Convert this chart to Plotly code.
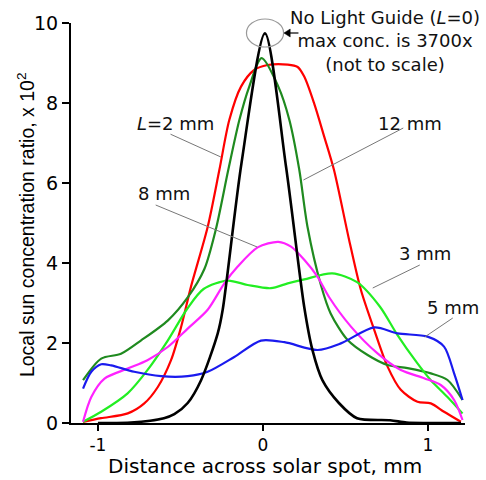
import plotly.graph_objects as go

# ---- data ----
x_L0 = [-1.0, -0.8, -0.6, -0.537, -0.456, -0.375, -0.274, -0.244, -0.13, 0.012, 0.14, 0.25, 0.30, 0.36, 0.46, 0.57, 0.77, 0.87, 1.0, 1.2]
y_L0 = [0.0, 0.01, 0.12, 0.22, 0.5, 1.07, 2.24, 2.83, 6.5, 9.74, 6.4, 2.9, 1.82, 1.07, 0.5, 0.12, 0.07, 0.01, 0.0, 0.0]

x_L2 = [-1.09, -0.981, -0.819, -0.719, -0.637, -0.557, -0.496, -0.436, -0.335, -0.264, -0.204, -0.133, -0.053, 0.028, 0.15, 0.21, 0.25, 0.31, 0.371, 0.43, 0.522, 0.593, 0.674, 0.755, 0.835, 0.936, 1.017, 1.097, 1.199]
y_L2 = [0.03, 0.12, 0.24, 0.49, 0.9, 1.57, 2.4, 3.41, 4.9, 6.33, 7.575, 8.41, 8.825, 8.95, 8.96, 8.9, 8.66, 7.99, 7.16, 6.33, 4.575, 3.33, 2.33, 1.41, 0.83, 0.53, 0.49, 0.28, 0.03]

x_L12 = [-1.09, -0.98, -0.86, -0.74, -0.577, -0.456, -0.355, -0.285, -0.21, -0.143, -0.083, -0.008, 0.093, 0.16, 0.22, 0.27, 0.351, 0.41, 0.513, 0.634, 0.755, 0.876, 1.017, 1.118, 1.209]
y_L12 = [1.07, 1.61, 1.73, 2.06, 2.56, 3.14, 3.85, 4.85, 6.33, 7.575, 8.41, 9.12, 8.41, 7.575, 6.33, 4.9, 3.45, 2.74, 2.075, 1.7, 1.45, 1.37, 1.24, 1.075, 0.575]

x_L3 = [-1.09, -0.98, -0.82, -0.70, -0.577, -0.46, -0.36, -0.214, -0.093, 0.048, 0.15, 0.25, 0.42, 0.57, 0.71, 0.81, 0.936, 1.017, 1.118, 1.209]
y_L3 = [0.03, 0.28, 0.74, 1.32, 2.06, 2.85, 3.35, 3.56, 3.45, 3.37, 3.49, 3.59, 3.74, 3.52, 2.9, 2.23, 1.49, 1.07, 0.65, 0.24]

x_L8 = [-1.09, -1.04, -0.96, -0.82, -0.70, -0.577, -0.456, -0.335, -0.234, -0.153, -0.032, 0.093, 0.17, 0.25, 0.33, 0.40, 0.533, 0.694, 0.835, 0.976, 1.077, 1.158, 1.209]
y_L8 = [0.03, 0.65, 1.11, 1.36, 1.57, 1.9, 2.36, 2.83, 3.49, 3.91, 4.39, 4.53, 4.41, 4.08, 3.66, 3.15, 2.41, 1.74, 1.325, 1.12, 0.95, 0.575, 0.075]

x_L5 = [-1.09, -1.04, -0.98, -0.92, -0.78, -0.617, -0.456, -0.335, -0.174, -0.012, 0.13, 0.331, 0.472, 0.674, 0.815, 0.997, 1.097, 1.158, 1.209]
y_L5 = [0.86, 1.28, 1.47, 1.44, 1.28, 1.17, 1.17, 1.28, 1.65, 2.06, 2.02, 1.825, 1.99, 2.39, 2.24, 2.16, 1.91, 1.24, 0.575]

series = [
    ("L=2 mm", x_L2, y_L2, "#ff0000"),
    ("12 mm", x_L12, y_L12, "#1f8a1f"),
    ("3 mm", x_L3, y_L3, "#22ee22"),
    ("8 mm", x_L8, y_L8, "#ff22ff"),
    ("5 mm", x_L5, y_L5, "#1a1aee"),
    ("L=0", x_L0, y_L0, "#000000"),
]

x_ticks = [-1, 0, 1]
x_tick_labels = ["-1", "0", "1"]
y_ticks = [0, 2, 4, 6, 8, 10]
y_tick_labels = ["0", "2", "4", "6", "8", "10"]

# curve labels: (text, label x, label y, leader from x,y -> to x,y)
labels = [
    ("<i>L</i>=2 mm", -0.53, 7.5, -0.56, 7.22, -0.255, 6.65),
    ("8 mm", -0.60, 5.75, -0.65, 5.45, -0.035, 4.4),
    ("12 mm", 0.89, 7.5, 0.85, 7.375, 0.245, 6.075),
    ("3 mm", 0.98, 4.25, 0.95, 3.95, 0.665, 3.375),
    ("5 mm", 1.15, 2.9, 1.15, 2.625, 0.98, 2.15),
]

FONT = "DejaVu Sans"

fig = go.Figure()
for name, xs, ys, col in series:
    fig.add_trace(go.Scatter(
        x=xs, y=ys, mode="lines", name=name,
        line=dict(color=col, width=2.2 if col != "#000000" else 2.6, shape="spline", smoothing=0.8),
        hoverinfo="skip",
    ))

shapes = []
annotations = []
for txt, lx, ly, x0, y0, x1, y1 in labels:
    annotations.append(dict(x=lx, y=ly, xref="x", yref="y", text=txt, showarrow=False,
                            font=dict(family=FONT, size=18, color="#111")))
    shapes.append(dict(type="line", xref="x", yref="y", x0=x0, y0=y0, x1=x1, y1=y1,
                       line=dict(color="#777", width=1), layer="above"))

# circle round the L=0 peak (extends above the plot area) and the small arrow pointing at it
shapes.append(dict(type="circle", xref="x", yref="paper", x0=-0.1, x1=0.125, y0=0.94, y1=1.01,
                   line=dict(color="#999", width=1.2)))
shapes.append(dict(type="line", xref="x", yref="paper", x0=0.14, x1=0.215, y0=0.975, y1=0.975,
                   line=dict(color="#000", width=1.2)))
shapes.append(dict(type="path", xref="x", yref="paper",
                   path="M 0.127 0.975 L 0.165 0.985 L 0.165 0.965 Z",
                   fillcolor="#000", line=dict(color="#000", width=0.5)))
annotations.append(dict(x=0.797, y=0.955, xref="paper", yref="paper",
                        text="No Light Guide (<i>L</i>=0)<br>max conc. is 3700x<br>(not to scale)",
                        showarrow=False, align="center", xanchor="center", yanchor="middle",
                        font=dict(family=FONT, size=18, color="#111")))
# axis titles
annotations.append(dict(x=0.492, y=-0.1425, xref="paper", yref="paper",
                        text="Distance across solar spot, mm", showarrow=False,
                        xanchor="center", yanchor="bottom",
                        font=dict(family=FONT, size=20, color="#000")))
annotations.append(dict(x=-0.114, y=0.495, xref="paper", yref="paper", textangle=-90,
                        text="Local sun concentration ratio, x 10<sup>2</sup>", showarrow=False,
                        xanchor="center", yanchor="middle",
                        font=dict(family="Liberation Sans", size=19.5, color="#000")))

fig.update_layout(
    width=486, height=480,
    margin=dict(l=71, r=21, t=23, b=57),
    paper_bgcolor="white", plot_bgcolor="white",
    showlegend=False,
    shapes=shapes, annotations=annotations,
    hovermode=False,
)
fig.update_xaxes(range=[-1.163, 1.224], tickvals=x_ticks, ticktext=x_tick_labels,
                 showgrid=False, zeroline=False, showline=True, linecolor="#000", linewidth=2,
                 ticks="outside", ticklen=6, tickwidth=1.5, tickcolor="#000",
                 tickfont=dict(family=FONT, size=17, color="#000"))
fig.update_yaxes(range=[0, 10], tickvals=y_ticks, ticktext=y_tick_labels,
                 showgrid=False, zeroline=False, showline=True, linecolor="#000", linewidth=2,
                 ticks="outside", ticklen=7, tickwidth=1.5, tickcolor="#000",
                 tickfont=dict(family=FONT, size=19, color="#000"))

fig.write_html("out.html")
